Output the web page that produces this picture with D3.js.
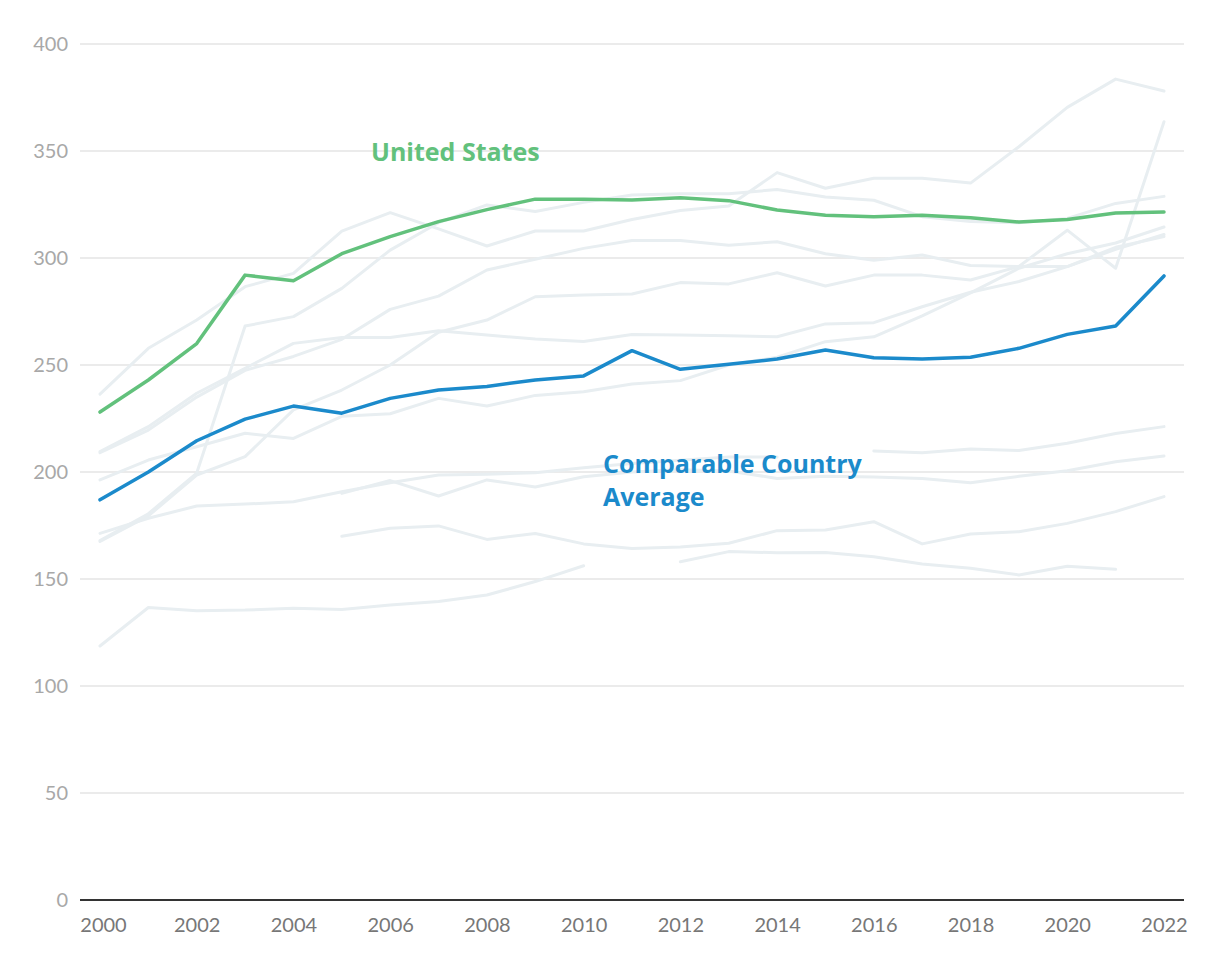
<!DOCTYPE html>
<html>
<head>
<meta charset="utf-8">
<script src="https://cdn.jsdelivr.net/npm/d3@7"></script>
<style>
  html, body { margin: 0; padding: 0; background: #ffffff; }
  svg { display: block; }
  text { font-family: Lato, "Open Sans", sans-serif; }
</style>
</head>
<body>
<svg id="chart" width="1220" height="970"></svg>
<script>
// ---- data ----
const years = [2000, 2001, 2002, 2003, 2004, 2005, 2006, 2007, 2008, 2009, 2010, 2011,
               2012, 2013, 2014, 2015, 2016, 2017, 2018, 2019, 2020, 2021, 2022];
const yTicks = [0, 50, 100, 150, 200, 250, 300, 350, 400];
const xTicks = [2000, 2002, 2004, 2006, 2008, 2010, 2012, 2014, 2016, 2018, 2020, 2022];

const unitedStates = [228, 243, 260, 292, 289.4, 302, 310, 317, 322.6, 327.5, 327.4, 327.1,
                      328.2, 326.8, 322.4, 320, 319.3, 320, 318.8, 316.8, 318, 321, 321.5];
const comparableAvg = [187, 200, 214.6, 224.7, 230.8, 227.5, 234.4, 238.3, 240, 243, 244.9, 256.7,
                       248, 250.3, 252.8, 257, 253.4, 252.8, 253.6, 257.8, 264.3, 268.2, 291.6];

// individual comparable countries (null = no data)
const peerA = [236.4, 257.8, 271, 286.6, 292.8, 312.6, 321.2, 313.6, 305.6, 312.6, 312.6, 318,
               322.2, 324.3, 339.9, 332.6, 337.3, 337.3, 335, 352, 370.4, 383.6, 378];
const peerB = [209.5, 221.2, 236.8, 248.5, 260.1, 262.9, 262.9, 266, 264, 262.1, 261, 264.3,
               264, 263.7, 263.2, 269.2, 269.8, 277.2, 284, 289, 296, 304, 311];
const peerC = [209, 219.6, 235, 247.5, 254, 262, 276, 282.2, 294.4, 299.4, 304.5, 308.2,
               308.2, 306, 307.6, 302, 299, 301.4, 296.5, 296, 296, 305, 310];
const peerD = [168, 180.5, 199.5, 268.2, 272.6, 285.8, 303.7, 316.5, 324.8, 321.7, 326, 329.4,
               330, 330, 332, 328.5, 327, 319.3, 317, 316.5, 318.5, 325.5, 328.8];
const peerE = [null, null, null, null, null, 190, 196, 188.8, 196.3, 193, 197.8, 200,
               201, 200.5, 197, 198, 197.7, 197, 195, 198, 200.6, 204.8, 207.5];
const peerF = [196.3, 205.6, 211.8, 218.1, 215.7, 226, 227.2, 234.4, 230.8, 235.8, 237.5, 241.1,
               242.7, 250, 253.6, 260.9, 263.2, 273, 283.7, 295.2, 302, 307, 314.5];
const peerG = [171.3, 178.4, 184.1, 185, 186.1, 190.8, 195, 198.6, 199, 199.7, 202, 204,
               205.5, 207, 207, null, 209.8, 209, 210.7, 210, 213.4, 218, 221.2];
const peerH = [167.5, 179.5, 198.6, 207.2, 229, 238.3, 250, 265.3, 271, 281.9, 282.7, 283.2,
               288.5, 287.9, 293.1, 286.9, 292, 292, 289.7, 296, 313, 295.2, 363.7];
const peerI = [null, null, null, null, null, 170, 173.7, 174.8, 168.5, 171.3, 166.4, 164.3,
               165, 166.7, 172.6, 172.9, 176.8, 166.4, 171, 172.1, 176, 181.5, 188.5];
const peerJ = [118.7, 136.7, 135.2, 135.5, 136.3, 135.8, 137.9, 139.5, 142.5, 148.8, 156.2, null,
               158.1, 162.8, 162.3, 162.4, 160.4, 157, 155, 151.9, 156, 154.5, null];
const peers = [peerA, peerB, peerC, peerD, peerE, peerF, peerG, peerH, peerI, peerJ];

// ---- drawing ----
const svg = d3.select("#chart");
const x = d3.scaleLinear().domain([2000, 2022]).range([100, 1164]);
const y = d3.scaleLinear().domain([0, 400]).range([900, 44]);
const gridLeft = 80, gridRight = 1184;

// gridlines
svg.append("g").selectAll("line")
  .data(yTicks.filter(d => d > 0))
  .join("line")
  .attr("x1", gridLeft).attr("x2", gridRight)
  .attr("y1", d => y(d)).attr("y2", d => y(d))
  .attr("stroke", "#e4e4e4").attr("stroke-width", 1.5);

// y labels
svg.append("g").selectAll("text")
  .data(yTicks)
  .join("text")
  .attr("x", 68).attr("y", d => y(d))
  .attr("dy", "0.36em")
  .attr("text-anchor", "end")
  .attr("fill", "#a8a8a8")
  .attr("font-size", 20)
  .text(d => d);

// x axis
const xAxis = d3.axisBottom(x).tickValues(xTicks).tickFormat(d3.format("d")).tickSize(0).tickPadding(18);
const xg = svg.append("g").attr("transform", `translate(0,${y(0)})`).call(xAxis);
xg.select(".domain").remove();
xg.selectAll("text").attr("fill", "#777").attr("font-size", 20)
  .style("font-family", "Lato, 'Open Sans', sans-serif");
xg.selectAll(".tick").filter(d => d === 2000).select("text").attr("dx", 3);

const line = d3.line()
  .defined(d => d[1] !== null)
  .x(d => x(d[0]))
  .y(d => y(d[1]));
const pairs = arr => years.map((yr, i) => [yr, arr[i]]);

// peer lines
svg.append("g").selectAll("path")
  .data(peers)
  .join("path")
  .attr("d", d => line(pairs(d)))
  .attr("fill", "none")
  .attr("stroke", "#e8eef1")
  .attr("stroke-width", 3)
  .attr("stroke-linejoin", "round")
  .attr("stroke-linecap", "round");

// baseline
svg.append("line")
  .attr("x1", gridLeft).attr("x2", gridRight)
  .attr("y1", y(0)).attr("y2", y(0))
  .attr("stroke", "#333").attr("stroke-width", 2);

// comparable average
svg.append("path")
  .attr("d", line(pairs(comparableAvg)))
  .attr("fill", "none").attr("stroke", "#1b8acb")
  .attr("stroke-width", 3.5).attr("stroke-linejoin", "round").attr("stroke-linecap", "round");

// united states
svg.append("path")
  .attr("d", line(pairs(unitedStates)))
  .attr("fill", "none").attr("stroke", "#62c17c")
  .attr("stroke-width", 3.5).attr("stroke-linejoin", "round").attr("stroke-linecap", "round");

// labels
svg.append("text")
  .attr("x", 371).attr("y", 161)
  .attr("fill", "#62c17c").attr("font-size", 25).attr("font-weight", 700)
  .style("font-family", "'Open Sans', Lato, sans-serif")
  .text("United States");

const avgLabel = svg.append("text")
  .attr("x", 603).attr("y", 473)
  .attr("fill", "#1b8acb").attr("font-size", 25).attr("font-weight", 700)
  .style("font-family", "'Open Sans', Lato, sans-serif");
avgLabel.append("tspan").attr("x", 603).attr("dy", 0).text("Comparable Country");
avgLabel.append("tspan").attr("x", 603).attr("dy", 33).text("Average");
</script>
</body>
</html>
